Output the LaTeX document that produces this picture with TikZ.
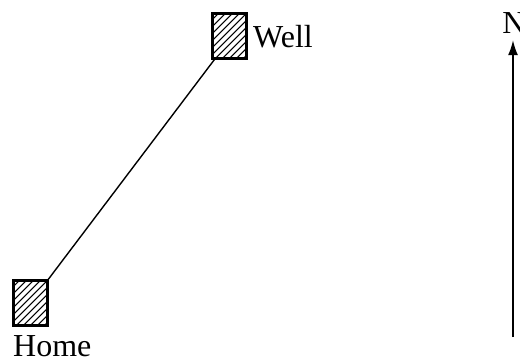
\documentclass[tikz,border=0pt]{standalone}
\usepackage{fontspec}
\setmainfont{Liberation Serif}
\usetikzlibrary{arrows.meta}
\begin{document}
\begin{tikzpicture}[x=1pt,y=1pt,
  hatchbox/.style={draw=black,line width=1.8pt,minimum width=33pt,minimum height=44pt,inner sep=0pt},
  lbl/.style={inner sep=0pt,font=\fontsize{32}{36}\selectfont},
  hatch/.style={line width=1pt}]
\clip (0,0) rectangle (520,360);
\fill[white] (0,0) rectangle (520,360);
% boxes
\node[hatchbox,anchor=north west] (well) at (212,347) {};
\node[hatchbox,anchor=north west] (home) at (13,80) {};
% hatching
\foreach \b in {well,home}{
  \begin{scope}
    \clip (\b.south west) rectangle (\b.north east);
    \foreach \k in {-60,-53,...,40}{
      \draw[hatch] ([xshift=\k pt]\b.south west) -- ++(60,60);
    }
  \end{scope}
  \draw[line width=1.8pt] (\b.south west) rectangle (\b.north east);
}
% labels
\node[lbl,anchor=base west] (welllbl) at (253,313) {Well};
\node[lbl,anchor=base west] (homelbl) at (13,4) {Home};
% path
\draw[line width=1.4pt] (home.north east) -- ([xshift=3pt]well.south west);
% north arrow
\node[lbl,anchor=base] (n) at (514,327) {N};
\coordinate (nb) at (513,23);
\draw[line width=1.5pt,-{Latex[length=15pt,width=10pt]},shorten >=7pt] (nb) -- (nb |- n.south);
\end{tikzpicture}
\end{document}
